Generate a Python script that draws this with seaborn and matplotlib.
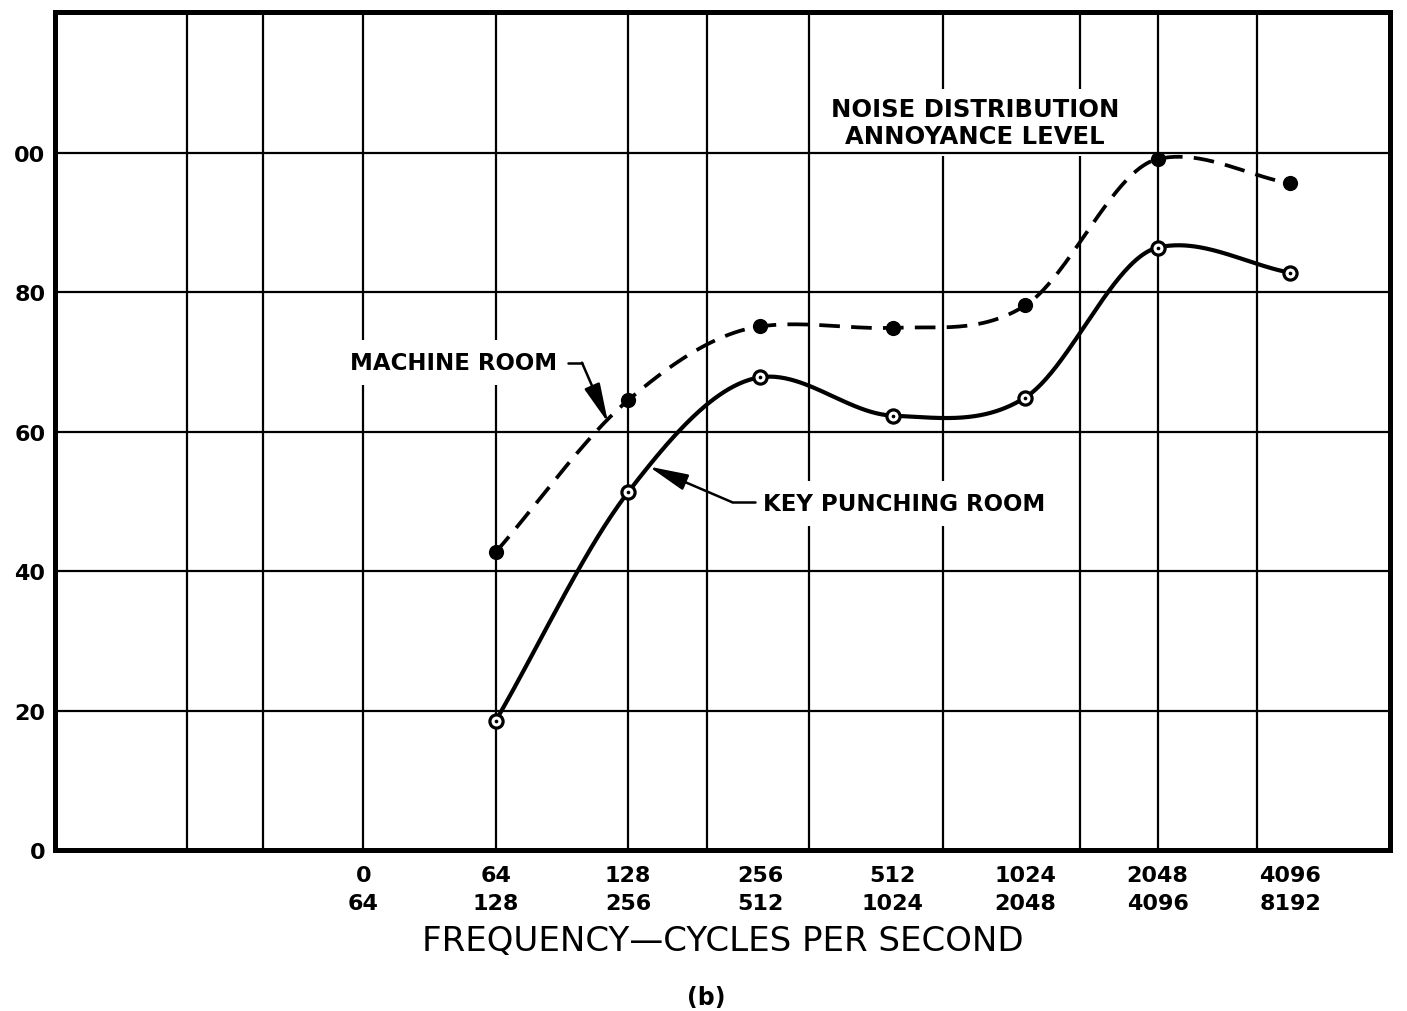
import numpy as np
import pandas as pd
import matplotlib
matplotlib.use("Agg")
import matplotlib.pyplot as plt
import seaborn as sns

# Octave bands (lower / upper edge, cycles per second)
band_low = ["0", "64", "128", "256", "512", "1024", "2048", "4096"]
band_high = ["64", "128", "256", "512", "1024", "2048", "4096", "8192"]

# Readings per band, starting at the 64-128 band
measured_from = "64"
machine_room = [42.7, 64.5, 75.1, 74.9, 78.1, 99.1, 95.6]
key_punching_room = [18.5, 51.3, 67.8, 62.3, 64.9, 86.4, 82.8]

y_ticks = [0, 20, 40, 60, 80, 100]
y_tick_labels = ["0", "20", "40", "60", "80", "00"]


def smooth(xk, yk, n=80):
    """French-curve style Hermite spline through the points."""
    xk = np.asarray(xk, float)
    yk = np.asarray(yk, float)
    h = np.diff(xk)
    d = np.diff(yk) / h
    m = np.zeros_like(yk)
    for k in range(1, len(yk) - 1):
        card = (yk[k + 1] - yk[k - 1]) / (xk[k + 1] - xk[k - 1])
        # soften the tangent at local peaks and dips
        m[k] = card if d[k - 1] * d[k] > 0 else 0.5 * card
    m[0], m[-1] = d[0], d[-1]
    xs, ys = [], []
    for k in range(len(h)):
        t = np.linspace(0, 1, n, endpoint=(k == len(h) - 1))
        h00 = 2 * t**3 - 3 * t**2 + 1
        h10 = t**3 - 2 * t**2 + t
        h01 = -2 * t**3 + 3 * t**2
        h11 = t**3 - t**2
        xs.append(xk[k] + t * h[k])
        ys.append(h00 * yk[k] + h10 * h[k] * m[k] + h01 * yk[k + 1] + h11 * h[k] * m[k + 1])
    return np.concatenate(xs), np.concatenate(ys)


sns.set_theme(style="white")
plt.rcParams["font.family"] = ["DejaVu Sans"]
plt.rcParams["text.color"] = "black"
plt.rcParams["axes.labelcolor"] = "black"
plt.rcParams["xtick.color"] = "black"
plt.rcParams["ytick.color"] = "black"

start = band_low.index(measured_from)
x_pts = np.arange(start, start + len(machine_room))
pts = pd.DataFrame({
    "band": np.concatenate([x_pts, x_pts]),
    "level": machine_room + key_punching_room,
    "room": ["MACHINE ROOM"] * len(machine_room) + ["KEY PUNCHING ROOM"] * len(key_punching_room),
})

fig = plt.figure(figsize=(14.07, 10.12), dpi=100)
ax = fig.add_axes([0.0391, 0.1591, 0.9488, 0.8281])

ax.set_xlim(-2.328, 7.755)
ax.set_ylim(0, 120.2)

# hand-ruled grid
for gx in [-1.33, -0.76, 0, 1, 2, 2.6, 3.37, 4.38, 5.41, 6, 6.75]:
    ax.axvline(gx, color="black", lw=1.6, zorder=1)
for gy in y_ticks[1:]:
    ax.axhline(gy, color="black", lw=1.6, zorder=3.5)

# curves
mx, my = smooth(x_pts, machine_room)
kx, ky = smooth(x_pts, key_punching_room)
sns.lineplot(x=mx, y=my, ax=ax, color="black", lw=2.7, sort=False, zorder=4)
ax.lines[-1].set_dashes((5.5, 3.0))
sns.lineplot(x=kx, y=ky, ax=ax, color="black", lw=3.0, sort=False, zorder=4)

mr = pts[pts["room"] == "MACHINE ROOM"]
kr = pts[pts["room"] == "KEY PUNCHING ROOM"]
sns.scatterplot(data=mr, x="band", y="level", ax=ax, s=120, color="black",
                edgecolor="black", linewidth=0, zorder=5, legend=False)
sns.scatterplot(data=kr, x="band", y="level", ax=ax, s=90, color="white",
                edgecolor="black", linewidth=2.3, zorder=5, legend=False)
sns.scatterplot(data=kr, x="band", y="level", ax=ax, s=7, color="black",
                linewidth=0, zorder=6, legend=False)

# frame
for side in ["left", "right", "top", "bottom"]:
    ax.spines[side].set_visible(True)
    ax.spines[side].set_color("black")
    ax.spines[side].set_linewidth(3.6)
    ax.spines[side].set_zorder(7)

ax.set_yticks(y_ticks)
ax.set_yticklabels(y_tick_labels)
ax.set_xticks(range(len(band_low)))
ax.set_xticklabels([f"{a}\n{b}" for a, b in zip(band_low, band_high)],
                   linespacing=1.5)
ax.tick_params(axis="both", length=0, labelsize=16)
ax.tick_params(axis="y", pad=7)
ax.tick_params(axis="x", pad=11)
for lab in ax.get_xticklabels() + ax.get_yticklabels():
    lab.set_fontweight("bold")

ax.set_xlabel("FREQUENCY\u2014CYCLES PER SECOND", fontsize=24.5, labelpad=8)
fig.text(706 / 1407, 1 - 998 / 1012, "(b)", ha="center", va="center",
         fontsize=17, fontweight="bold")

ax.text(4.62, 104.3, "NOISE DISTRIBUTION\nANNOYANCE LEVEL", ha="center",
        va="center", fontsize=17.5, fontweight="bold", linespacing=1.15,
        bbox=dict(facecolor="white", edgecolor="none", pad=6), zorder=3)

box = dict(facecolor="white", edgecolor="none", pad=8)
arrow = dict(arrowstyle="-|>,head_length=2.0,head_width=0.42",
             color="black", lw=1.8, shrinkA=0, shrinkB=0)

ax.text(-0.10, 69.9, "MACHINE ROOM", ha="left", va="center", fontsize=16.5,
        fontweight="bold", bbox=box, zorder=3)
ax.plot([1.55, 1.652], [69.9, 69.9], color="black", lw=1.8, zorder=4)
ax.annotate("", xy=(1.849, 61.3), xytext=(1.652, 69.9), arrowprops=arrow,
            zorder=4)

ax.text(3.02, 49.7, "KEY PUNCHING ROOM", ha="left", va="center", fontsize=16.5,
        fontweight="bold", bbox=box, zorder=3)
ax.plot([2.958, 2.784], [49.9, 49.9], color="black", lw=1.8, zorder=4)
ax.annotate("", xy=(2.157, 55.0), xytext=(2.784, 49.9), arrowprops=arrow,
            zorder=4)

ax.set_ylabel("")
fig.savefig("out.png", dpi=100, facecolor="white")
